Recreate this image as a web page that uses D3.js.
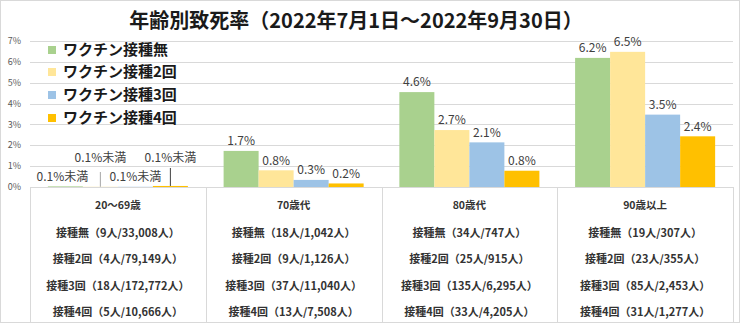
<!DOCTYPE html>
<html><head><meta charset="utf-8">
<script src="https://cdn.jsdelivr.net/npm/d3@7"></script>
<style>
html,body{margin:0;padding:0;background:#fff;}
svg{display:block;font-family:"Noto Sans CJK JP","Noto Sans",sans-serif;}
</style></head>
<body><svg id="c" width="740" height="323"></svg>
<script>
const title = "年齢別致死率（2022年7月1日～2022年9月30日）";
const categories = ["20～69歳","70歳代","80歳代","90歳以上"];
const seriesNames = ["ワクチン接種無","ワクチン接種2回","ワクチン接種3回","ワクチン接種4回"];
const seriesColors = ["#A9D18E","#FFE699","#9DC3E6","#FFC000"];
const valuesNone  = [0.03, 1.73, 4.55, 6.19];
const valuesDose2 = [0.01, 0.80, 2.73, 6.48];
const valuesDose3 = [0.01, 0.34, 2.14, 3.47];
const valuesDose4 = [0.05, 0.17, 0.78, 2.43];
const labelsNone  = ["0.1%未満","1.7%","4.6%","6.2%"];
const labelsDose2 = ["0.1%未満","0.8%","2.7%","6.5%"];
const labelsDose3 = ["0.1%未満","0.3%","2.1%","3.5%"];
const labelsDose4 = ["0.1%未満","0.2%","0.8%","2.4%"];
const yTicks = [0,1,2,3,4,5,6,7];
const rowsNone  = ["接種無（9人/33,008人）","接種無（18人/1,042人）","接種無（34人/747人）","接種無（19人/307人）"];
const rowsDose2 = ["接種2回（4人/79,149人）","接種2回（9人/1,126人）","接種2回（25人/915人）","接種2回（23人/355人）"];
const rowsDose3 = ["接種3回（18人/172,772人）","接種3回（37人/11,040人）","接種3回（135人/6,295人）","接種3回（85人/2,453人）"];
const rowsDose4 = ["接種4回（5人/10,666人）","接種4回（13人/7,508人）","接種4回（33人/4,205人）","接種4回（31人/1,277人）"];

const values = [valuesNone, valuesDose2, valuesDose3, valuesDose4];
const labels = [labelsNone, labelsDose2, labelsDose3, labelsDose4];
const rows = [rowsNone, rowsDose2, rowsDose3, rowsDose4];

const svg = d3.select("#c");
const W = 740, H = 323;
svg.append("rect").attr("x",0.5).attr("y",0.5).attr("width",W-1).attr("height",H-1)
  .attr("fill","#fff").attr("stroke","#D9D9D9");

const x0 = d3.scaleBand().domain(categories).range([30, 733]);
const x1 = d3.scaleBand().domain(seriesNames).range([0, x0.bandwidth()]).paddingOuter(0.51);
const y = d3.scaleLinear().domain([0,7]).range([187, 41]);

// gridlines
svg.append("g").selectAll("line").data(yTicks).join("line")
  .attr("x1",30).attr("x2",733)
  .attr("y1",d=>Math.round(y(d))+0.5).attr("y2",d=>Math.round(y(d))+0.5)
  .attr("stroke","#D9D9D9");
// y tick labels
svg.append("g").selectAll("text").data(yTicks).join("text")
  .attr("x",21).attr("y",d=>y(d)).attr("dy","0.35em")
  .attr("text-anchor","end").attr("font-size",9).attr("fill","#595959")
  .text(d=>d+"%");

// table lines
const bounds = categories.map(c=>x0(c)).concat([x0.range()[1]]);
svg.append("g").selectAll("line").data(bounds).join("line")
  .attr("x1",d=>Math.round(d)+0.5).attr("x2",d=>Math.round(d)+0.5)
  .attr("y1",187).attr("y2",H)
  .attr("stroke","#D9D9D9");

// bars
const data = [];
categories.forEach((c,ci)=>seriesNames.forEach((s,si)=>data.push({c,s,si,ci,v:values[si][ci],l:labels[si][ci]})));
svg.append("g").selectAll("rect").data(data).join("rect")
  .attr("x",d=>x0(d.c)+x1(d.s)).attr("width",x1.bandwidth())
  .attr("y",d=>y(d.v)).attr("height",d=>y(0)-y(d.v))
  .attr("fill",d=>seriesColors[d.si]);

// value labels
const lab = svg.append("g").attr("font-size",12).attr("fill","#404040").attr("text-anchor","middle");
data.forEach(d=>{
  const cx = x0(d.c)+x1(d.s)+x1.bandwidth()/2;
  if (d.ci===0) {
    const high = (d.si===1 || d.si===3);
    const ly = high ? 158 : 177;
    lab.append("text").attr("x", cx + (d.si===0 ? -3 : 0)).attr("y", ly).attr("dy","0.35em").text(d.l);
    if (high) {
      svg.append("line").attr("x1",cx).attr("x2",cx)
        .attr("y1", d.si===1 ? 172 : 168).attr("y2", y(d.v))
        .attr("stroke", d.si===1 ? "#A6A6A6" : "#404040");
    }
  } else {
    lab.append("text").attr("x",cx).attr("y",y(d.v)-10).attr("dy","0.35em").text(d.l);
  }
});

// table text
const tb = svg.append("g").attr("font-size",11).attr("font-weight","bold").attr("fill","#333333").attr("text-anchor","middle");
const rowY = [205, 233, 259, 286, 312];
categories.forEach((c,ci)=>{
  const cx = x0(c)+x0.bandwidth()/2;
  tb.append("text").attr("x",cx).attr("y",rowY[0]).attr("dy","0.35em").attr("font-size",10.5).text(c);
  rows.forEach((r,ri)=>tb.append("text").attr("x",cx).attr("y",rowY[ri+1]).attr("dy","0.35em").text(r[ci]));
});

// legend
const lg = svg.append("g");
const legY = [50, 72, 95, 118];
seriesNames.forEach((s,i)=>{
  lg.append("rect").attr("x",48).attr("y",legY[i]-4).attr("width",8).attr("height",8).attr("fill",seriesColors[i]);
  lg.append("text").attr("x",63).attr("y",legY[i]).attr("dy","0.35em")
    .attr("font-size",15).attr("font-weight","bold").attr("fill","#1a1a1a").text(s);
});

// title
svg.append("text").attr("x",356).attr("y",21).attr("dy","0.35em").attr("text-anchor","middle")
  .attr("font-size",20).attr("font-weight","bold").attr("fill","#1a1a1a").text(title);
</script></body></html>
